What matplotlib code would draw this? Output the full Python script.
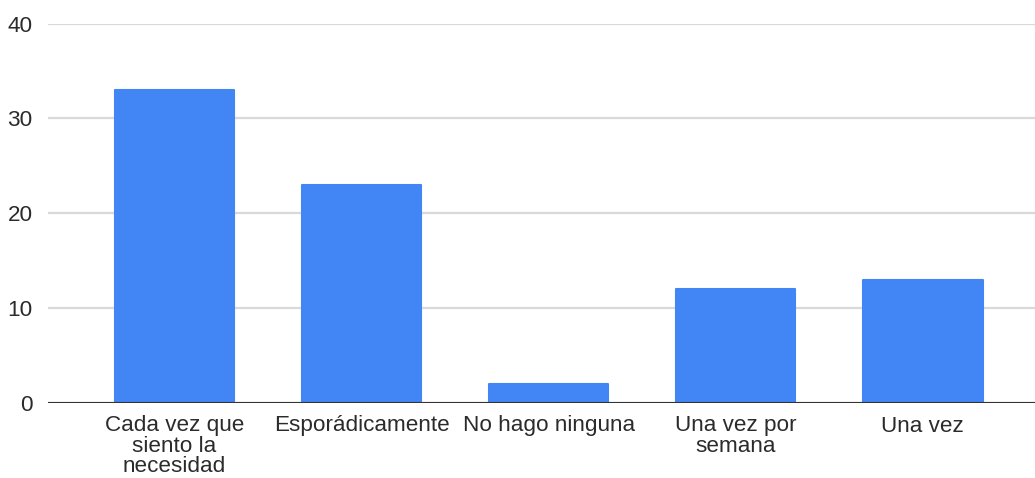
import matplotlib.pyplot as plt

# Data
categories = ["Cada vez que\nsiento la\nnecesidad", "Esporádicamente", "No hago ninguna",
              "Una vez por\nsemana", "Una vez"]
values = [33, 23, 2, 12, 13]
y_ticks = [0, 10, 20, 30, 40]

plt.rcParams['font.family'] = ['Liberation Sans', 'DejaVu Sans']

fig = plt.figure(figsize=(10.35, 4.78), dpi=100)
ax = fig.add_axes([48 / 1035, 1 - 403 / 478, 1 - 48 / 1035, (403 - 23.5) / 478])

x = list(range(len(categories)))
ax.bar(x, values, width=0.639, color="#4285F4", edgecolor="#4285F4",
       linewidth=1.5, joinstyle="round", zorder=3)

ax.set_ylim(0, 40)
ax.set_xlim(-0.676, 4.60)
ax.set_yticks(y_ticks)
ax.set_xticks(x)
ax.set_xticklabels(categories, linespacing=0.95)

ax.grid(axis="y", color="#d9d9d9", linewidth=1.6, zorder=0)
ax.axhline(0, color="#333333", linewidth=1.5, zorder=4)
for s in ax.spines.values():
    s.set_visible(False)
ax.tick_params(axis="both", length=0, labelsize=16.2, labelcolor="#2b2b2b")
ax.tick_params(axis="y", pad=11)
ax.tick_params(axis="x", pad=9)

fig.savefig("out.png", dpi=100)
